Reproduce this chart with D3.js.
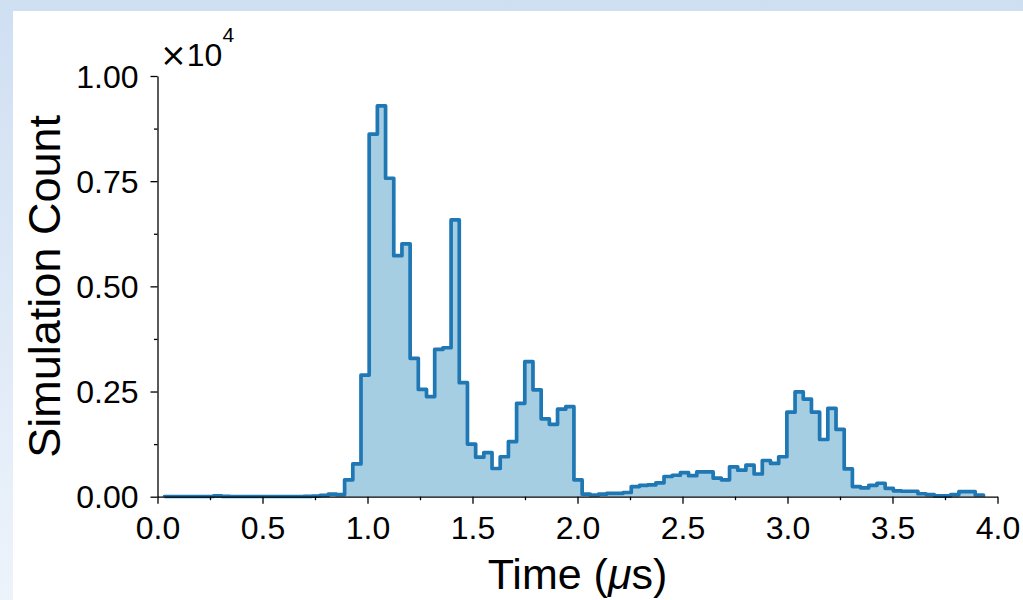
<!DOCTYPE html>
<html>
<head>
<meta charset="utf-8">
<script src="https://cdn.jsdelivr.net/npm/d3@7"></script>
<style>
  html, body { margin: 0; padding: 0; width: 1023px; height: 600px; overflow: hidden; }
  svg { display: block; }
  text { font-family: "Liberation Sans", Arial, sans-serif; fill: #000; }
</style>
</head>
<body>
<svg id="chart" width="1023" height="600"></svg>
<script>
// ---- data ----
const binStart = 0.033;   // first bin edge (µs)
const binWidth = 0.039;   // bin width (µs)
const counts = [
  5, 5, 5, 5, 5, 5, 20, 10, 5, 5,
  5, 5, 5, 5, 5, 5, 5, 8, 15, 30,
  60, 50, 400, 780, 2890, 8620, 9290, 7570, 5730, 6010,
  3290, 2550, 2380, 3500, 3540, 6580, 2710, 1250, 940, 1050,
  670, 950, 1310, 2220, 3210, 2540, 1850, 1720, 2080, 2140,
  400, 60, 40, 60, 80, 80, 100, 240, 270, 280,
  330, 480, 510, 570, 500, 590, 590, 440, 400, 710,
  630, 750, 540, 860, 790, 950, 2010, 2490, 2320, 2010,
  1360, 2100, 1600, 660, 240, 210, 270, 320, 200, 140,
  130, 130, 70, 50, 20, 20, 50, 120, 120, 40
];
const xMajorTicks = [0, 0.5, 1.0, 1.5, 2.0, 2.5, 3.0, 3.5, 4.0];
const xMinorTicks = [0.25, 0.75, 1.25, 1.75, 2.25, 2.75, 3.25, 3.75];
const yMajorTicks = [0, 2500, 5000, 7500, 10000];
const yMinorTicks = [1250, 3750, 6250, 8750];
const xLabel = "Time (";
const yLabel = "Simulation Count";

// ---- layout ----
const svg = d3.select("#chart");
const defs = svg.append("defs");
const grad = defs.append("linearGradient").attr("id", "bg").attr("x1", 0).attr("y1", 0).attr("x2", 0).attr("y2", 1);
grad.append("stop").attr("offset", "0%").attr("stop-color", "#cfdff2");
grad.append("stop").attr("offset", "100%").attr("stop-color", "#edf3fb");
svg.append("rect").attr("width", 1023).attr("height", 600).attr("fill", "url(#bg)");
svg.append("rect").attr("x", 13).attr("y", 11).attr("width", 1010).attr("height", 589).attr("fill", "#ffffff");

const x = d3.scaleLinear().domain([0, 4]).range([157.5, 997.5]);
const y = d3.scaleLinear().domain([0, 10000]).range([496.7, 76]);

// histogram step outline points
const pts = [[binStart, 0]];
counts.forEach((c, i) => {
  const e0 = binStart + i * binWidth, e1 = binStart + (i + 1) * binWidth;
  pts.push([e0, c]); pts.push([e1, c]);
});
pts.push([binStart + counts.length * binWidth, 0]);

const line = d3.line().x(d => x(d[0])).y(d => y(d[1]));
svg.append("path").attr("d", line(pts) + "Z").attr("fill", "#a6cee3").attr("stroke", "none");
svg.append("path").attr("d", line(pts)).attr("fill", "none")
  .attr("stroke", "#1f77b4").attr("stroke-width", 3.7).attr("stroke-linejoin", "round");

// axes
const fs = 32;
const gx = svg.append("g").attr("transform", `translate(0,${y(0)})`)
  .call(d3.axisBottom(x).tickValues(xMajorTicks).tickSize(7).tickSizeOuter(0).tickPadding(10).tickFormat(d3.format(".1f")));
const gxm = svg.append("g").attr("transform", `translate(0,${y(0)})`)
  .call(d3.axisBottom(x).tickValues(xMinorTicks).tickSize(3.5).tickSizeOuter(0).tickFormat(""));
gxm.select(".domain").remove();
const gy = svg.append("g").attr("transform", `translate(${x(0)},0)`)
  .call(d3.axisLeft(y).tickValues(yMajorTicks).tickSize(7).tickSizeOuter(0).tickPadding(12).tickFormat(d => (d / 1e4).toFixed(2)));
const gym = svg.append("g").attr("transform", `translate(${x(0)},0)`)
  .call(d3.axisLeft(y).tickValues(yMinorTicks).tickSize(3.5).tickSizeOuter(0).tickFormat(""));
gym.select(".domain").remove();

svg.selectAll(".domain").attr("stroke", "#000").attr("stroke-width", 1.3);
svg.selectAll(".tick line").attr("stroke", "#000").attr("stroke-width", 1.3);
svg.selectAll(".tick text").attr("font-size", fs).attr("font-family", "Liberation Sans, Arial, sans-serif").attr("fill", "#000");
gx.selectAll(".tick text").attr("dy", null).attr("y", 42);
gy.selectAll(".tick text").attr("dy", "0.35em");

// offset text ×10^4
const off = svg.append("text").attr("x", 160).attr("y", 66).attr("font-size", fs);
off.append("tspan").attr("font-family", "DejaVu Sans, sans-serif").text("×");
off.append("tspan").text("10");
off.append("tspan").attr("font-size", 21).attr("dy", -24).text("4");

// axis labels
const xl = svg.append("text").attr("x", x(2)).attr("y", 589).attr("text-anchor", "middle").attr("font-size", 43);
xl.append("tspan").text(xLabel);
xl.append("tspan").attr("font-style", "italic").text("μ");
xl.append("tspan").text("s)");

svg.append("text").attr("transform", `translate(59.5,${(y(0) + y(10000)) / 2}) rotate(-90)`)
  .attr("text-anchor", "middle").attr("font-size", 45).text(yLabel);
</script>
</body>
</html>
